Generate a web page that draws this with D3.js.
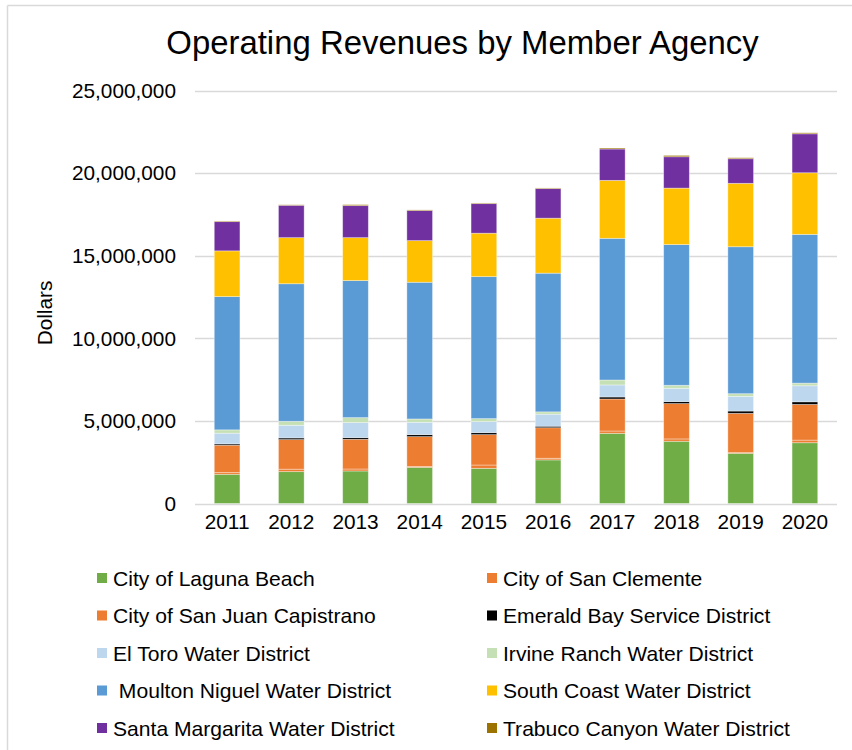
<!DOCTYPE html>
<html>
<head>
<meta charset="utf-8">
<script src="https://cdn.jsdelivr.net/npm/d3@7"></script>
<style>
    body { margin: 0; background: #fff; }
    svg { font-family: "Liberation Sans", Arial, sans-serif; }
</style>
</head>
<body>
<svg width="852" height="750"></svg>
<script>
let years = ["2011", "2012", "2013", "2014", "2015", "2016", "2017", "2018", "2019", "2020"];

let agencies = ["City of Laguna Beach", "City of San Clemente", "City of San Juan Capistrano",
    "Emerald Bay Service District", "El Toro Water District", "Irvine Ranch Water District",
    " Moulton Niguel Water District", "South Coast Water District", "Santa Margarita Water District",
    "Trabuco Canyon Water District"];

let colors = ["#70ad47", "#ed7d31", "#ed7d31", "#000000", "#bdd7ee", "#c5e0b4",
    "#5b9bd5", "#ffc000", "#7030a0", "#9c7200"];

// values in millions of dollars, one array per agency (2011 .. 2020)
let lagunaBeach      = [1.77, 1.93, 1.97, 2.19, 2.13, 2.64, 4.25, 3.77, 3.04, 3.68];
let sanClemente      = [0.10, 0.15, 0.12, 0.05, 0.20, 0.10, 0.14, 0.14, 0.04, 0.16];
let sanJuanCap       = [1.66, 1.79, 1.80, 1.81, 1.84, 1.85, 1.94, 2.14, 2.38, 2.16];
let emeraldBay       = [0.08, 0.10, 0.10, 0.12, 0.12, 0.09, 0.12, 0.12, 0.14, 0.16];
let elToro           = [0.65, 0.77, 0.91, 0.75, 0.67, 0.73, 0.73, 0.81, 0.89, 0.97];
let irvineRanch      = [0.20, 0.24, 0.30, 0.20, 0.18, 0.14, 0.30, 0.18, 0.16, 0.16];
let moultonNiguel    = [8.07, 8.33, 8.30, 8.28, 8.60, 8.40, 8.58, 8.52, 8.90, 9.01];
let southCoast       = [2.77, 2.79, 2.60, 2.52, 2.63, 3.33, 3.51, 3.42, 3.84, 3.73];
let santaMargarita   = [1.77, 1.96, 1.94, 1.82, 1.79, 1.79, 1.90, 1.90, 1.49, 2.36];
let trabucoCanyon    = [0.04, 0.03, 0.06, 0.04, 0.04, 0.04, 0.06, 0.08, 0.06, 0.06];

let series = [lagunaBeach, sanClemente, sanJuanCap, emeraldBay, elToro,
    irvineRanch, moultonNiguel, southCoast, santaMargarita, trabucoCanyon];

let yTicks = [0, 5000000, 10000000, 15000000, 20000000, 25000000];

let svg = d3.select("svg");

// frame of the chart area
svg.append("line").attr("x1", 7.5).attr("x2", 852).attr("y1", 5.5).attr("y2", 5.5)
    .attr("stroke", "#d9d9d9").attr("stroke-width", 1.5);
svg.append("line").attr("x1", 7.5).attr("x2", 7.5).attr("y1", 5.5).attr("y2", 750)
    .attr("stroke", "#d9d9d9").attr("stroke-width", 1.5);

let x = d3.scaleBand().domain(years).range([195, 837]).paddingInner(0.6).paddingOuter(0.3);
let y = d3.scaleLinear().domain([0, 25000000]).range([503.5, 90.7]);

// rows for the stack
let rows = years.map(function (yr, i) {
    let r = { year: yr };
    agencies.forEach(function (a, k) { r[a] = series[k][i] * 1000000; });
    return r;
});
let stacked = d3.stack().keys(agencies)(rows);

// grid
svg.append("g").selectAll("line").data(yTicks).join("line")
    .attr("x1", 195).attr("x2", 837)
    .attr("y1", d => Math.round(y(d)) + 0.5).attr("y2", d => Math.round(y(d)) + 0.5)
    .attr("stroke", "#d9d9d9").attr("stroke-width", 1.3);

// y axis labels
let yAxis = svg.append("g").attr("transform", "translate(176,0)")
    .call(d3.axisLeft(y).tickValues(yTicks).tickSize(0).tickPadding(0).tickFormat(d3.format(",")));
yAxis.select(".domain").remove();
yAxis.selectAll("text").attr("font-size", "20.8px").attr("fill", "#000")
    .attr("font-family", "Liberation Sans, Arial, sans-serif");

// x axis labels
let xAxis = svg.append("g").attr("transform", "translate(0,514)")
    .call(d3.axisBottom(x).tickSize(0).tickPadding(0));
xAxis.select(".domain").remove();
xAxis.selectAll("text").attr("font-size", "20.8px").attr("fill", "#000")
    .attr("font-family", "Liberation Sans, Arial, sans-serif");

// bars
svg.append("g").selectAll("g").data(stacked).join("g")
    .attr("fill", (d, i) => colors[i])
    .selectAll("rect").data(d => d).join("rect")
    .attr("x", d => x(d.data.year))
    .attr("width", x.bandwidth())
    .attr("y", d => y(d[1]))
    .attr("height", d => y(d[0]) - y(d[1]))
    .attr("stroke", "#fff").attr("stroke-opacity", 0.45).attr("stroke-width", 0.8);

// title
svg.append("text")
    .attr("x", 462.5).attr("y", 54)
    .attr("text-anchor", "middle")
    .attr("font-size", "32.9px")
    .text("Operating Revenues by Member Agency");

// y title
svg.append("text")
    .attr("transform", "translate(52,313) rotate(-90)")
    .attr("text-anchor", "middle")
    .attr("font-size", "20.8px")
    .text("Dollars");

// legend, two columns
let legend = svg.append("g").selectAll("g").data(agencies).join("g")
    .attr("transform", (d, i) => "translate(" + (i % 2 === 0 ? 97 : 487) + "," + (578 + Math.floor(i / 2) * 37.5) + ")");
legend.append("rect")
    .attr("x", 0).attr("y", -5).attr("width", 10).attr("height", 10)
    .attr("fill", (d, i) => colors[i]);
legend.append("text")
    .attr("x", d => 16)
    .attr("y", 7.5)
    .attr("font-size", "21.1px")
    .style("white-space", "pre")
    .text(d => d);
</script>
</body>
</html>
